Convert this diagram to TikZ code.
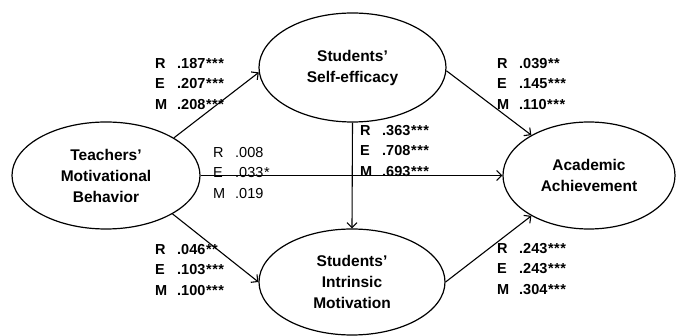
\documentclass[tikz,border=0pt]{standalone}
\usepackage{fontspec}
\setmainfont{Liberation Sans}
\usetikzlibrary{shapes.geometric,arrows.meta}
\newcommand{\rw}[2]{\makebox[22pt][l]{#1}#2}
\newcommand{\sg}{\kern0.6pt*}
\begin{document}
\begin{tikzpicture}[x=1pt,y=-1pt,
  var/.style={draw,ellipse,line width=1.2pt,inner sep=0pt,align=center,
    font=\fontsize{15.5}{21}\selectfont\bfseries},
  conn/.style={line width=1.1pt,-{Straight Barb[length=5pt,width=10pt,line width=1.1pt]}},
  coef/.style={anchor=north west,inner sep=0pt,align=left,
    font=\fontsize{14.5}{20.5}\selectfont\bfseries},
  coefn/.style={anchor=north west,inner sep=0pt,align=left,
    font=\fontsize{14.5}{20.5}\selectfont}]
\useasboundingbox (0,0) rectangle (678,336);
\node[var,minimum width=188pt,minimum height=107pt] (L) at (106,175.5) {Teachers’\\Motivational\\Behavior};
\node[var,minimum width=187pt,minimum height=109pt] (T) at (352.5,67.5) {Students’\\Self-efficacy};
\node[var,minimum width=186pt,minimum height=106pt] (B) at (352,282) {Students’\\Intrinsic\\Motivation};
\node[var,minimum width=172pt,minimum height=107pt] (R) at (589,175.5) {Academic\\Achievement};
\draw[conn] (L.29) -- (T.183);
\draw[conn] (L.-30) -- (B.west);
\draw[conn] (L.east) -- (R.west);
\draw[conn] (T.south) -- (B.north);
\draw[conn] (T.-2) -- (R.145);
\draw[conn] (B.east) -- (R.215);
\node[coef] (c1) at (155,58) {\rw{R}{.187\sg\sg\sg}\\\rw{E}{.207\sg\sg\sg}\\\rw{M}{.208\sg\sg\sg}};
\node[coef] (c2) at (497,58) {\rw{R}{.039\sg\sg}\\\rw{E}{.145\sg\sg\sg}\\\rw{M}{.110\sg\sg\sg}};
\node[coef] (c3) at (360,125) {\rw{R}{.363\sg\sg\sg}\\\rw{E}{.708\sg\sg\sg}\\\rw{M}{.693\sg\sg\sg}};
\node[coefn] (c4) at (213,147) {\rw{R}{.008}\\\rw{E}{.033\sg}\\\rw{M}{.019}};
\node[coef] (c5) at (155,244) {\rw{R}{.046\sg\sg}\\\rw{E}{.103\sg\sg\sg}\\\rw{M}{.100\sg\sg\sg}};
\node[coef] (c6) at (497,243) {\rw{R}{.243\sg\sg\sg}\\\rw{E}{.243\sg\sg\sg}\\\rw{M}{.304\sg\sg\sg}};
\end{tikzpicture}
\end{document}
